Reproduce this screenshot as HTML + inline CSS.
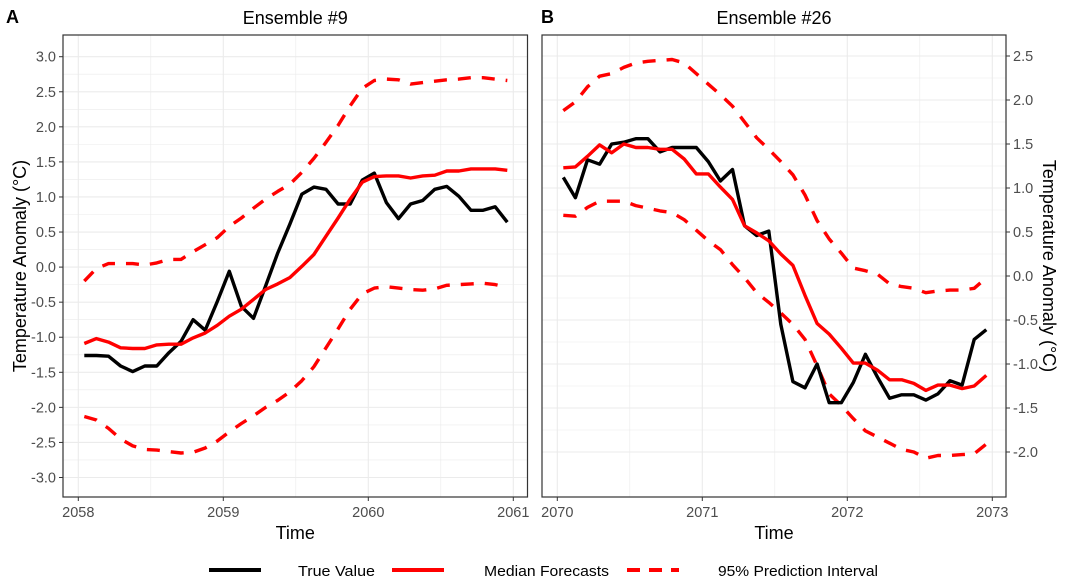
<!DOCTYPE html>
<html><head><meta charset="utf-8"><style>
body{margin:0;background:#fff}
svg{display:block;font-family:"Liberation Sans",Arial,sans-serif}
</style></head><body>
<svg id="chart" width="1070" height="588" viewBox="0 0 1070 588"></svg>
<script>
const idx = Array.from({length:36},(_,i)=>i);
const ticksY_A = [3.0,2.5,2.0,1.5,1.0,0.5,0.0,-0.5,-1.0,-1.5,-2.0,-2.5,-3.0];
const ticksY_B = [2.5,2.0,1.5,1.0,0.5,0.0,-0.5,-1.0,-1.5,-2.0];
const ticksX_A = [2058,2059,2060,2061];
const ticksX_B = [2070,2071,2072,2073];
const trueA = [-1.26,-1.26,-1.27,-1.41,-1.49,-1.41,-1.41,-1.22,-1.06,-0.75,-0.90,-0.49,-0.06,-0.56,-0.73,-0.27,0.20,0.61,1.04,1.14,1.11,0.90,0.90,1.24,1.34,0.92,0.69,0.90,0.95,1.11,1.15,1.01,0.81,0.81,0.86,0.64];
const medA = [-1.09,-1.02,-1.07,-1.15,-1.16,-1.16,-1.11,-1.10,-1.10,-1.01,-0.94,-0.83,-0.70,-0.60,-0.46,-0.32,-0.24,-0.15,0.01,0.18,0.44,0.70,0.97,1.21,1.29,1.30,1.30,1.27,1.30,1.31,1.37,1.37,1.40,1.40,1.40,1.38];
const upA = [-0.20,-0.02,0.05,0.05,0.05,0.03,0.06,0.11,0.11,0.22,0.32,0.42,0.58,0.70,0.84,0.97,1.08,1.18,1.35,1.55,1.78,2.02,2.30,2.55,2.66,2.68,2.67,2.61,2.63,2.65,2.67,2.68,2.70,2.70,2.68,2.66];
const loA = [-2.13,-2.18,-2.30,-2.45,-2.55,-2.60,-2.61,-2.63,-2.65,-2.64,-2.58,-2.48,-2.35,-2.23,-2.12,-2.00,-1.90,-1.78,-1.62,-1.42,-1.15,-0.88,-0.60,-0.38,-0.30,-0.28,-0.30,-0.32,-0.33,-0.31,-0.26,-0.25,-0.24,-0.23,-0.25,-0.29];
const trueB = [1.12,0.89,1.32,1.27,1.50,1.52,1.56,1.56,1.41,1.46,1.46,1.46,1.30,1.08,1.21,0.57,0.46,0.51,-0.55,-1.20,-1.27,-1.00,-1.44,-1.44,-1.21,-0.89,-1.15,-1.39,-1.35,-1.35,-1.41,-1.34,-1.19,-1.24,-0.72,-0.61];
const medB = [1.23,1.24,1.36,1.49,1.40,1.50,1.46,1.46,1.44,1.44,1.33,1.16,1.16,1.01,0.87,0.57,0.49,0.40,0.25,0.12,-0.22,-0.54,-0.66,-0.82,-0.99,-0.99,-1.07,-1.18,-1.18,-1.22,-1.30,-1.24,-1.24,-1.28,-1.25,-1.13];
const upB = [1.88,1.98,2.15,2.27,2.30,2.37,2.42,2.44,2.45,2.46,2.42,2.30,2.18,2.06,1.93,1.75,1.57,1.44,1.30,1.15,0.92,0.63,0.42,0.26,0.09,0.06,0.02,-0.09,-0.12,-0.14,-0.19,-0.17,-0.16,-0.16,-0.14,-0.02];
const loB = [0.69,0.68,0.78,0.85,0.85,0.85,0.80,0.77,0.74,0.72,0.64,0.52,0.40,0.30,0.13,-0.02,-0.19,-0.30,-0.42,-0.55,-0.72,-1.02,-1.34,-1.47,-1.62,-1.76,-1.83,-1.90,-1.97,-2.00,-2.07,-2.04,-2.04,-2.03,-2.02,-1.91];

const NS='http://www.w3.org/2000/svg';
const svg=document.getElementById('chart');
function mk(tag,attrs,parent,text){const e=document.createElementNS(NS,tag);for(const k in attrs)e.setAttribute(k,attrs[k]);if(text!==undefined)e.textContent=text;(parent||svg).appendChild(e);return e;}

function panel(p){
  const g=mk('g',{});
  
  
  const sx=t=>p.x0+(t-p.t0)*(p.x1-p.x0)/(p.t1-p.t0);
  const sy=v=>p.y0+(p.v0-v)*(p.y1-p.y0)/(p.v0-p.v1);
  for(let k=0;k<p.ticksY.length-1;k++){const v=(p.ticksY[k]+p.ticksY[k+1])/2;mk('line',{x1:p.L,x2:p.R,y1:sy(v),y2:sy(v),stroke:'#ebebeb','stroke-width':0.6},g);}
  for(let k=0;k<p.ticksX.length-1;k++){const t=p.ticksX[k]+0.5;mk('line',{x1:sx(t),x2:sx(t),y1:p.T,y2:p.B,stroke:'#ebebeb','stroke-width':0.6},g);}
  p.ticksY.forEach(v=>{mk('line',{x1:p.L,x2:p.R,y1:sy(v),y2:sy(v),stroke:'#ebebeb','stroke-width':1.1},g);});
  p.ticksX.forEach(t=>{mk('line',{x1:sx(t),x2:sx(t),y1:p.T,y2:p.B,stroke:'#ebebeb','stroke-width':1.1},g);});
  const tx=i=>sx(p.t0+(i+0.5)/12);
  const path=(arr,color,dash,name)=>{
    const d=arr.map((v,i)=>(i?'L':'M')+tx(i).toFixed(1)+','+sy(v).toFixed(1)).join('');
    const e=mk('path',{d:d,fill:'none',stroke:color,'stroke-width':3.4,'stroke-linejoin':'round'},g);
    if(dash)e.setAttribute('stroke-dasharray','13 11');
    
    
  };
  path(p.up,'#ff0000',true,'upper-interval-line');
  path(p.lo,'#ff0000',true,'lower-interval-line');
  path(p.tr,'#000000',false,'true-value-line');
  path(p.md,'#ff0000',false,'median-forecast-line');
  mk('rect',{x:p.L,y:p.T,width:p.R-p.L,height:p.B-p.T,fill:'none',stroke:'#333','stroke-width':1.2},g);
  p.ticksY.forEach(v=>{
    const y=sy(v);
    if(p.right){mk('line',{x1:p.R,x2:p.R+4,y1:y,y2:y,stroke:'#333'},g);
      mk('text',{x:p.R+7,y:y+5,'font-size':14.5,fill:'#4d4d4d'},g,v.toFixed(1));}
    else{mk('line',{x1:p.L-4,x2:p.L,y1:y,y2:y,stroke:'#333'},g);
      mk('text',{x:p.L-7,y:y+5,'font-size':14.5,fill:'#4d4d4d','text-anchor':'end'},g,v.toFixed(1));}
  });
  p.ticksX.forEach(t=>{const x=sx(t);mk('line',{x1:x,x2:x,y1:p.B,y2:p.B+4,stroke:'#333'},g);
    mk('text',{x:x,y:p.B+20,'font-size':14.5,fill:'#4d4d4d','text-anchor':'middle'},g,String(t));});
  const ti=mk('text',{x:(p.L+p.R)/2,y:24,'font-size':18,'text-anchor':'middle',fill:'#000'},g,p.title);
  
  
  const xt=mk('text',{x:(p.L+p.R)/2,y:539,'font-size':18,'text-anchor':'middle'},g,'Time');
  
  
  const tag=mk('text',{x:p.tagX,y:23,'font-size':18,'font-weight':'bold'},g,p.tag);
  
  
}
panel({name:'panel-a',L:63,R:527.5,T:35,B:497,x0:78.3,x1:513.3,t0:2058,t1:2061,y0:56.7,y1:477.5,v0:3,v1:-3,
  ticksY:ticksY_A,ticksX:ticksX_A,tr:trueA,md:medA,up:upA,lo:loA,title:'Ensemble #9',tag:'A',tagX:6,right:false});
panel({name:'panel-b',L:542,R:1006,T:35,B:497,x0:557.3,x1:992.3,t0:2070,t1:2073,y0:56,y1:452,v0:2.5,v1:-2,
  ticksY:ticksY_B,ticksX:ticksX_B,tr:trueB,md:medB,up:upB,lo:loB,title:'Ensemble #26',tag:'B',tagX:541,right:true});

const yl=mk('text',{x:0,y:0,'font-size':18,'text-anchor':'middle',transform:'translate(26,266) rotate(-90)'},svg,'Temperature Anomaly (°C)');


const yr=mk('text',{x:0,y:0,'font-size':18,'text-anchor':'middle',transform:'translate(1043,266) rotate(90)'},svg,'Temperature Anomaly (°C)');



const lg=mk('g',{});


const entries=[['True Value','#000',false,209,298,77],['Median Forecasts','#f00',false,392,484,125],['95% Prediction Interval','#f00',true,627,718,160]];
entries.forEach(e=>{
  const ge=mk('g',{},lg);
  
  
  const l=mk('line',{x1:e[3],x2:e[3]+52,y1:570,y2:570,stroke:e[1],'stroke-width':4},ge);
  if(e[2])l.setAttribute('stroke-dasharray','13 9');
  mk('text',{x:e[4],y:576,'font-size':15,textLength:e[5],lengthAdjust:'spacingAndGlyphs'},ge,e[0]);
});
</script>
</body></html>
